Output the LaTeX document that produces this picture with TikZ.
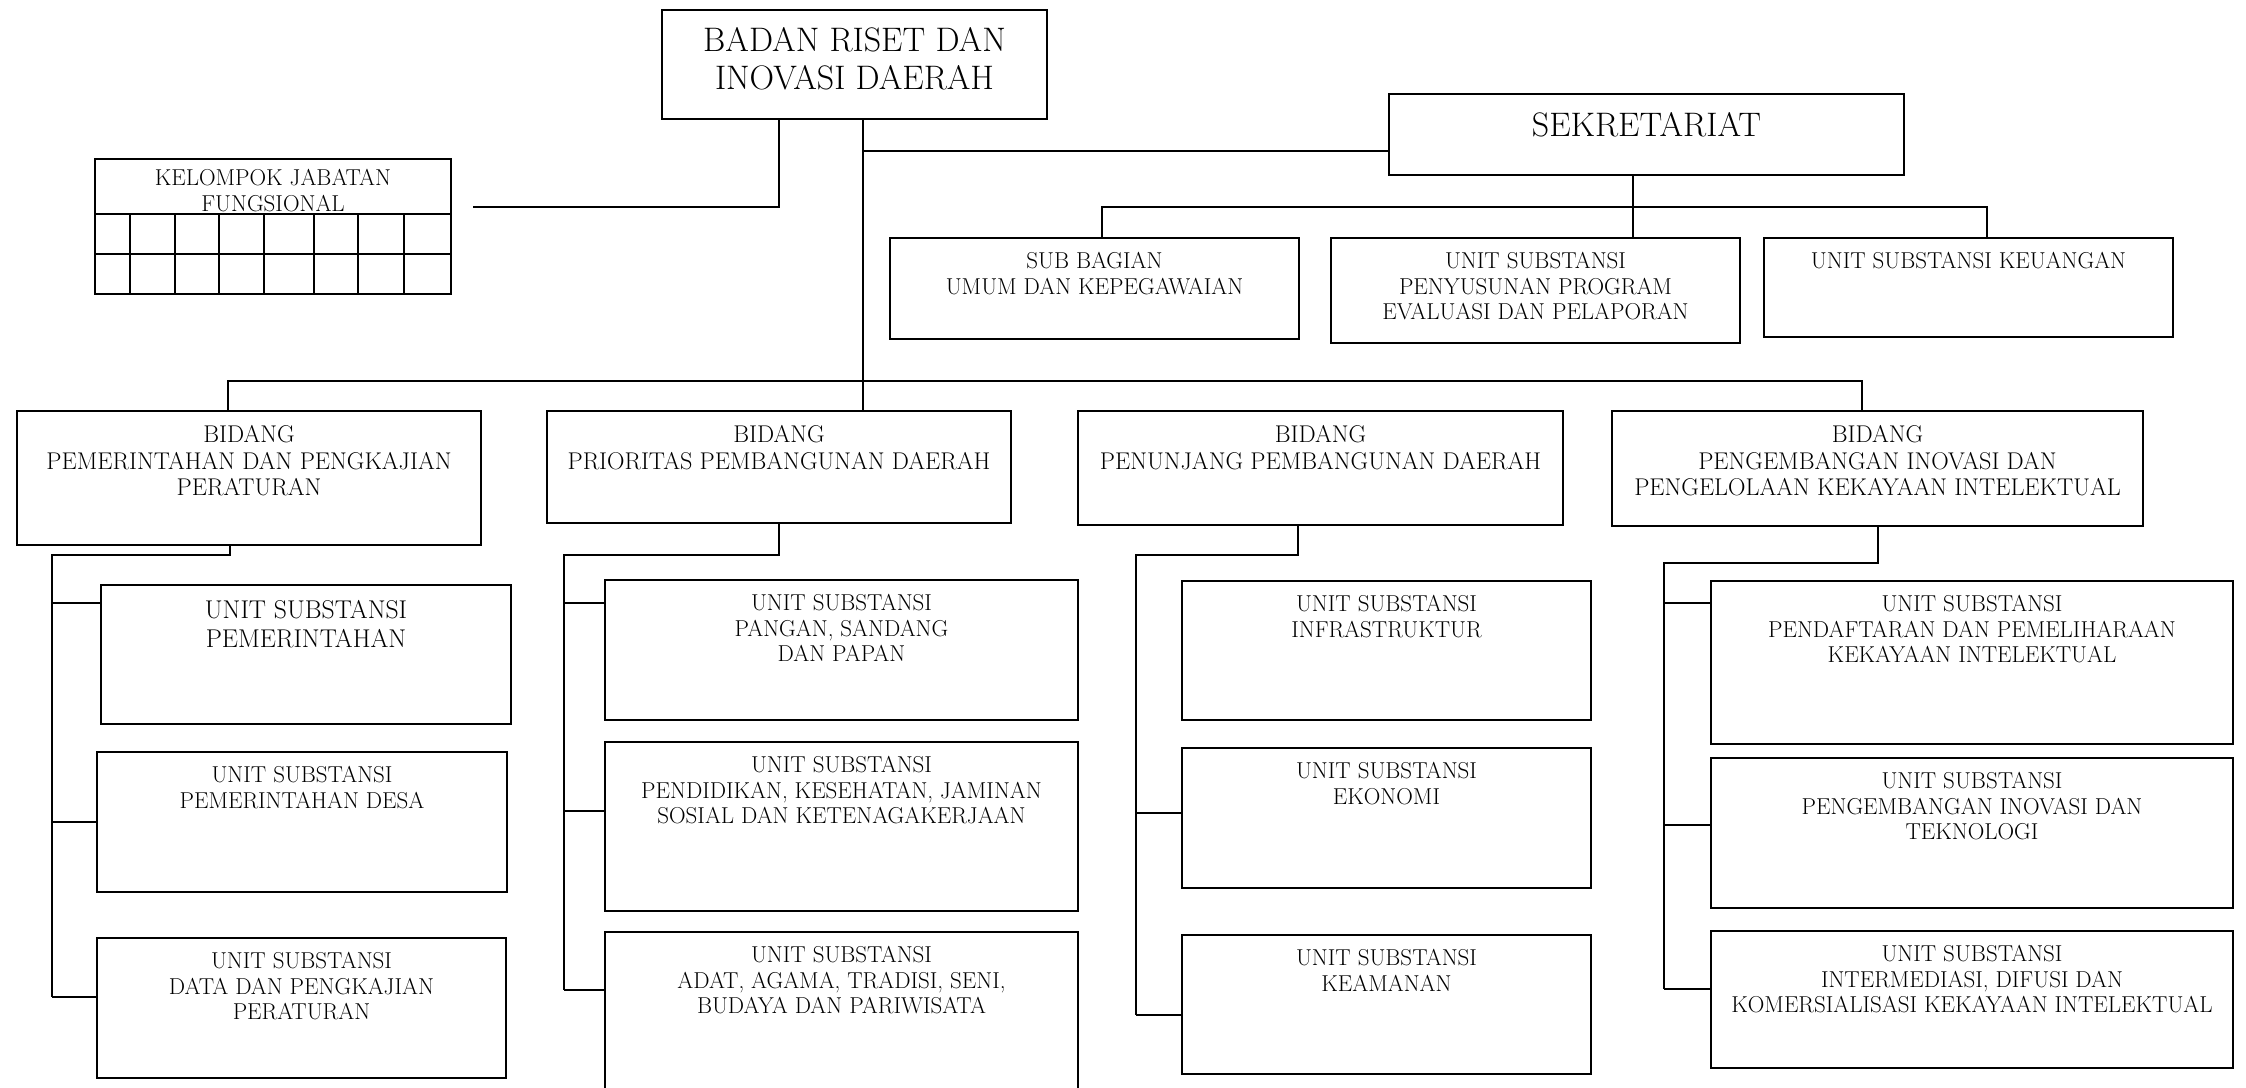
\documentclass[tikz,border=0pt]{standalone}
\usetikzlibrary{positioning}
\newlength{\capht}
\newcommand{\boxtext}[4]{\parbox[t][#2pt][t]{#1pt}{\centering\settoheight{\capht}{H}\vspace*{\dimexpr#3pt-\capht\relax}#4}}

\begin{document}
\begin{tikzpicture}[x=1pt, y=-1pt, line width=2pt]
	\tikzstyle{unitbox} = [draw, rectangle, anchor=north west, inner sep=0pt, font={\fontsize{23}{25.5}\selectfont}]
	\tikzstyle{headbox} = [unitbox, font={\fontsize{34}{38}\selectfont}]
	\tikzstyle{bidbox} = [unitbox, font={\fontsize{24.2}{26.7}\selectfont}]
	\tikzstyle{bigunit} = [unitbox, font={\fontsize{25.7}{28.7}\selectfont}]
	
	\useasboundingbox (0,0) rectangle (2246,1087);
	
	\node[headbox]	at (661,9)		(badan)	{\boxtext{385}{109}{41}{BADAN RISET DAN\\INOVASI DAERAH}};
	\node[headbox]	at (1388,93)	(sek)	{\boxtext{515}{81}{42}{SEKRETARIAT}};
	\node[unitbox]	at (94,158)		(kjf)	{\boxtext{356}{135}{26}{KELOMPOK JABATAN\\FUNGSIONAL}};
	\node[unitbox]	at (889,237)	(sb1)	{\boxtext{409}{101}{30}{SUB BAGIAN\\UMUM DAN KEPEGAWAIAN}};
	\node[unitbox]	at (1330,237)	(sb2)	{\boxtext{409}{105}{30}{UNIT SUBSTANSI\\PENYUSUNAN PROGRAM\\EVALUASI DAN PELAPORAN}};
	\node[unitbox]	at (1763,237)	(sb3)	{\boxtext{409}{99}{30}{UNIT SUBSTANSI KEUANGAN}};
	
	\node[bidbox]	at (16,410)		(b1)	{\boxtext{464}{134}{31}{BIDANG\\PEMERINTAHAN DAN PENGKAJIAN\\PERATURAN}};
	\node[bidbox]	at (546,410)	(b2)	{\boxtext{464}{112}{31}{BIDANG\\PRIORITAS PEMBANGUNAN DAERAH}};
	\node[bidbox]	at (1077,410)	(b3)	{\boxtext{485}{114}{31}{BIDANG\\PENUNJANG PEMBANGUNAN DAERAH}};
	\node[bidbox]	at (1611,410)	(b4)	{\boxtext{531}{115}{31}{BIDANG\\PENGEMBANGAN INOVASI DAN\\PENGELOLAAN KEKAYAAN INTELEKTUAL}};
	
	\node[bigunit]	at (100,584)	(c11)	{\boxtext{410}{139}{33}{UNIT SUBSTANSI\\PEMERINTAHAN}};
	\node[unitbox]	at (96,751)		(c12)	{\boxtext{410}{140}{30}{UNIT SUBSTANSI\\PEMERINTAHAN DESA}};
	\node[unitbox]	at (96,937)		(c13)	{\boxtext{409}{140}{30}{UNIT SUBSTANSI\\DATA DAN PENGKAJIAN\\PERATURAN}};
	
	\node[unitbox]	at (604,579)	(c21)	{\boxtext{473}{140}{30}{UNIT SUBSTANSI\\PANGAN, SANDANG\\DAN PAPAN}};
	\node[unitbox]	at (604,741)	(c22)	{\boxtext{473}{169}{30}{UNIT SUBSTANSI\\PENDIDIKAN, KESEHATAN, JAMINAN\\SOSIAL DAN KETENAGAKERJAAN}};
	\node[unitbox]	at (604,931)	(c23)	{\boxtext{473}{200}{30}{UNIT SUBSTANSI\\ADAT, AGAMA, TRADISI, SENI,\\BUDAYA DAN PARIWISATA}};
	
	\node[unitbox]	at (1181,580)	(c31)	{\boxtext{409}{139}{30}{UNIT SUBSTANSI\\INFRASTRUKTUR}};
	\node[unitbox]	at (1181,747)	(c32)	{\boxtext{409}{140}{30}{UNIT SUBSTANSI\\EKONOMI}};
	\node[unitbox]	at (1181,934)	(c33)	{\boxtext{409}{139}{30}{UNIT SUBSTANSI\\KEAMANAN}};
	
	\node[unitbox]	at (1710,580)	(c41)	{\boxtext{522}{163}{30}{UNIT SUBSTANSI\\PENDAFTARAN DAN PEMELIHARAAN\\KEKAYAAN INTELEKTUAL}};
	\node[unitbox]	at (1710,757)	(c42)	{\boxtext{522}{150}{30}{UNIT SUBSTANSI\\PENGEMBANGAN INOVASI DAN\\TEKNOLOGI}};
	\node[unitbox]	at (1710,930)	(c43)	{\boxtext{522}{137}{30}{UNIT SUBSTANSI\\INTERMEDIASI, DIFUSI DAN\\KOMERSIALISASI KEKAYAAN INTELEKTUAL}};
	
	\draw (kjf.west |- 0,214) -- (kjf.east |- 0,214);
	\draw (kjf.west |- 0,254) -- (kjf.east |- 0,254);
	\foreach \x in {130,175,219,264,314,358,404}
		\draw (\x,214) -- (\x,293);
	
	\coordinate (kjfend) at (473,207);
	\draw (badan.south -| 779,0) |- (kjfend);
	\draw (badan.south -| 863,0) -- (b2.north -| 863,0);
	\draw (863,151) -- (sek.west |- 0,151);
	
	\draw (sek.south -| 1633,0) -- (sb2.north -| 1633,0);
	\draw (sb1.north -| 1102,0) -- (1102,207) -- (1987,207) -- (sb3.north -| 1987,0);
	
	\draw (b1.north -| 228,0) -- (228,381) -- (1862,381) -- (b4.north -| 1862,0);
	
	\draw (b1.south -| 230,0) |- (52,555) -- (52,997);
	\foreach \n/\y in {c11/603, c12/822, c13/997}
		\draw (52,\y) -- (\n.west |- 0,\y);
	
	\draw (b2.south) |- (564,555) -- (564,990);
	\foreach \n/\y in {c21/603, c22/811, c23/990}
		\draw (564,\y) -- (\n.west |- 0,\y);
	
	\draw (b3.south -| 1298,0) |- (1136,555) -- (1136,1015);
	\foreach \n/\y in {c32/813, c33/1015}
		\draw (1136,\y) -- (\n.west |- 0,\y);
	
	\draw (b4.south) |- (1664,563) -- (1664,989);
	\foreach \n/\y in {c41/603, c42/825, c43/989}
		\draw (1664,\y) -- (\n.west |- 0,\y);
\end{tikzpicture}
\end{document}
